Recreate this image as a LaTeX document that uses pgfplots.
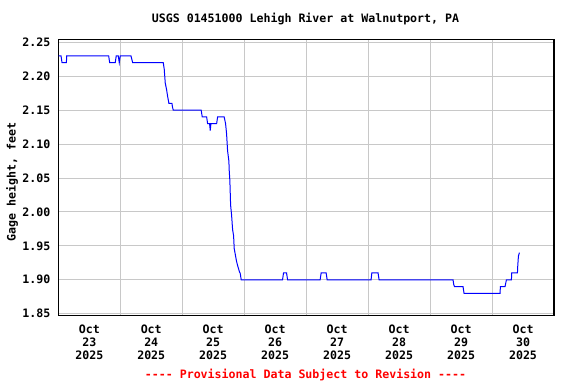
\documentclass[border=0pt]{standalone}
\usepackage{fontspec}
\setmainfont{DejaVu Sans Mono}
\usepackage{pgfplots}
\pgfplotsset{compat=1.18}
\definecolor{gridgray}{HTML}{C8C8C8}
\definecolor{lineblue}{HTML}{0000FF}
\newcommand{\chfont}{\fontsize{11.6}{12.7}\selectfont\bfseries}
\begin{document}
\begin{tikzpicture}[x=1pt,y=1pt]
\useasboundingbox (0,0) rectangle (576,384);
\fill[white] (0,0) rectangle (576,384);
\begin{axis}[
  at={(58.3pt,68.3pt)}, anchor=south west,
  scale only axis, width=495.7pt, height=276.4pt,
  xmin=0, xmax=8, ymin=1.84705, ymax=2.25442,
  xtick={0.5,1.5,2.5,3.5,4.5,5.5,6.5,7.5},
  xticklabels={{Oct\\23\\2025},{Oct\\24\\2025},{Oct\\25\\2025},{Oct\\26\\2025},{Oct\\27\\2025},{Oct\\28\\2025},{Oct\\29\\2025},{Oct\\30\\2025}},
  minor xtick={1,2,3,4,5,6,7},
  ytick={1.85,1.90,1.95,2.00,2.05,2.10,2.15,2.20,2.25},
  yticklabels={1.85,1.90,1.95,2.00,2.05,2.10,2.15,2.20,2.25},
  ymajorgrids, xminorgrids,
  grid style={gridgray, line width=1pt},
  minor grid style={gridgray, line width=1pt},
  axis line style={black, line width=1.3pt},
  major tick length=0pt, minor tick length=0pt,
  every tick label/.append style={font=\chfont},
  xticklabel style={align=center, yshift=-6pt},
  yticklabel style={xshift=-4.4pt},
]
\addplot[lineblue, line width=1pt] table {
x y
0.006 2.23
0.044 2.23
0.060 2.22
0.131 2.22
0.135 2.23
0.813 2.23
0.829 2.22
0.919 2.22
0.935 2.23
0.968 2.23
0.984 2.22
1.000 2.23
1.173 2.23
1.200 2.22
1.694 2.22
1.710 2.21
1.726 2.19
1.748 2.18
1.765 2.17
1.785 2.16
1.834 2.16
1.842 2.155
1.855 2.15
2.306 2.15
2.323 2.14
2.394 2.14
2.410 2.13
2.442 2.13
2.452 2.12
2.463 2.13
2.555 2.13
2.571 2.14
2.677 2.14
2.700 2.13
2.716 2.115
2.732 2.09
2.753 2.075
2.758 2.062
2.769 2.046
2.781 2.010
2.797 1.995
2.813 1.974
2.829 1.965
2.839 1.946
2.861 1.935
2.877 1.927
2.894 1.921
2.910 1.916
2.926 1.911
2.935 1.91
2.952 1.90
3.619 1.90
3.635 1.91
3.684 1.91
3.700 1.90
4.226 1.90
4.242 1.91
4.323 1.91
4.339 1.90
5.048 1.90
5.060 1.91
5.161 1.91
5.177 1.90
6.371 1.90
6.382 1.893
6.394 1.89
6.532 1.89
6.548 1.88
7.129 1.88
7.135 1.89
7.210 1.89
7.221 1.895
7.232 1.90
7.313 1.90
7.318 1.91
7.410 1.91
7.415 1.92
7.426 1.935
7.442 1.94
};
\end{axis}
\node[font=\chfont] at (305.5,365) {USGS 01451000 Lehigh River at Walnutport, PA};
\node[font=\chfont, text=red] at (305.5,9) {-{}-{}-{}- Provisional Data Subject to Revision -{}-{}-{}-};
\node[font=\chfont, rotate=90] at (12,202) {Gage height, feet};
\end{tikzpicture}
\end{document}
